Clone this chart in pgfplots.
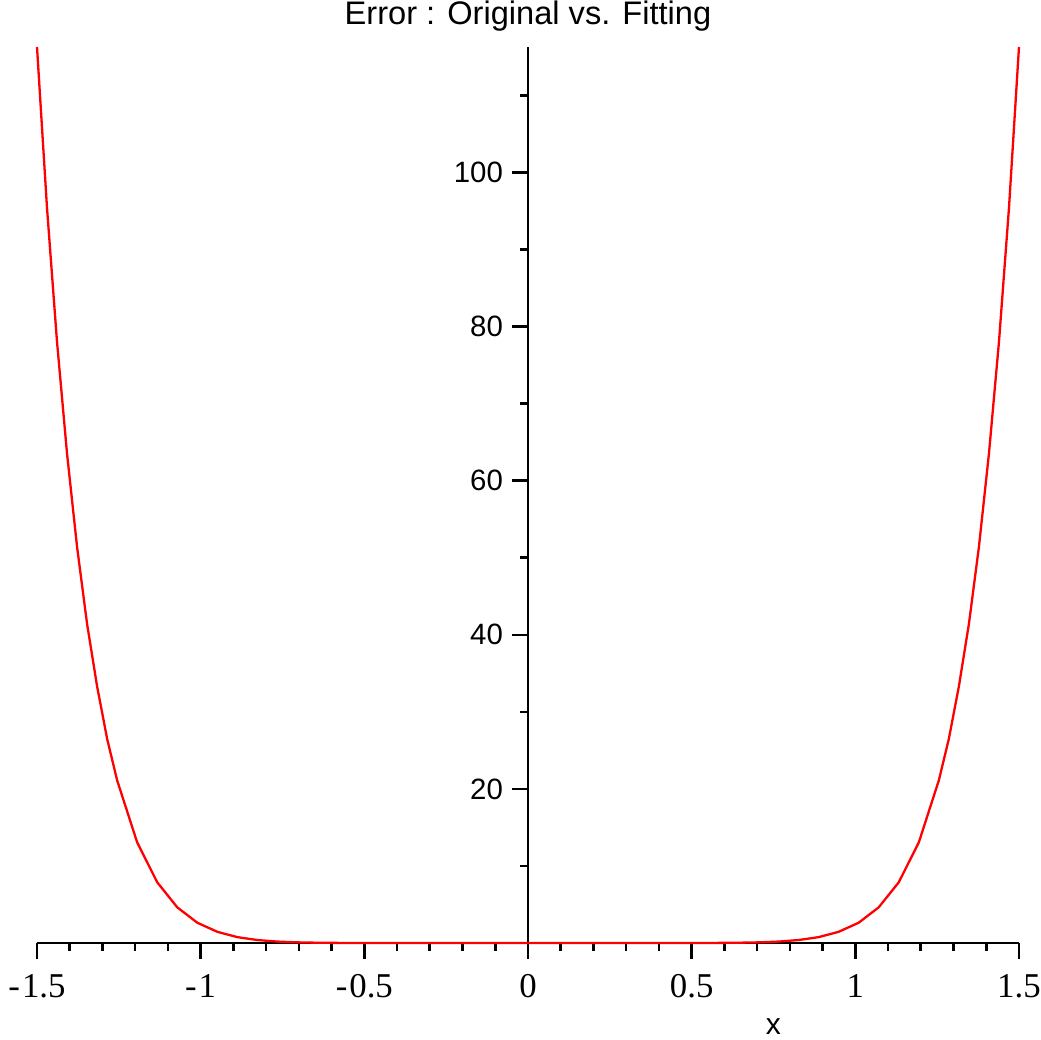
\documentclass[border=0pt]{standalone}
\usepackage{pgfplots}
\pgfplotsset{compat=1.18}
\usepackage{fontspec}
\setmainfont{Liberation Serif}
\newfontfamily\arial{Liberation Sans}
\begin{document}
\begin{tikzpicture}
\useasboundingbox (-18.5pt,-48.5pt) rectangle (502pt,471.5pt);
\begin{axis}[
  scale only axis,
  width=491pt, height=448pt,
  axis lines=middle,
  axis line style={-, line width=1.3pt, black},
  xmin=-1.5, xmax=1.5, ymin=0, ymax=116.3,
  clip=false,
  hide obscured x ticks=false,
  hide obscured y ticks=false,
  xtick={-1.5,-1,-0.5,0,0.5,1,1.5},
  xticklabels={-\kern1pt1.5,-\kern1pt1,-\kern1pt0.5,0,0.5,1,1.5},
  minor xtick={-1.4,-1.3,-1.2,-1.1,-0.9,-0.8,-0.7,-0.6,-0.4,-0.3,-0.2,-0.1,0.1,0.2,0.3,0.4,0.6,0.7,0.8,0.9,1.1,1.2,1.3,1.4},
  ytick={20,40,60,80,100},
  yticklabels={20,40,60,80,100},
  minor ytick={10,30,50,70,90,110},
  tick align=outside,
  major tick length=8pt,
  minor tick length=4pt,
  every tick/.style={black, line width=1.3pt},
  xticklabel style={font=\fontsize{17.4pt}{20pt}\selectfont, anchor=north, yshift=-4pt},
  yticklabel style={font=\arial\fontsize{14.7pt}{17pt}\selectfont, anchor=east, xshift=-1pt},
  title={Error : Original vs. Fitting},
  title style={font=\arial\fontsize{16.3pt}{19pt}\selectfont, at={(rel axis cs:0.5,1)}, anchor=base, yshift=5pt},
  xlabel={x},
  every axis x label/.style={at={(axis cs:0.75,0)}, anchor=center, yshift=-42pt, font=\arial\fontsize{15pt}{18pt}\selectfont},
]
\addplot[color=red, line width=1.15pt] coordinates {
(-1.5,116.3) (-1.46939,95.4) (-1.43878,78.0) (-1.40817,63.5) (-1.37755,51.4)
(-1.34694,41.4) (-1.31633,33.3) (-1.28572,26.5) (-1.25510,21.1)
(-1.19388,13.05) (-1.13265,7.88) (-1.07143,4.63) (-1.01020,2.63) (-0.94898,1.45)
(-0.88776,0.76) (-0.82653,0.385) (-0.76531,0.184) (-0.70408,0.083) (-0.64286,0.035)
(-0.58163,0.013) (-0.52041,0.005) (-0.45918,0.0013) (-0.39796,0.0003) (-0.33673,0.0001)
(-0.27551,0) (-0.21429,0) (-0.15306,0) (-0.09184,0) (-0.03061,0)
(0.03061,0) (0.09184,0) (0.15306,0) (0.21429,0) (0.27551,0)
(0.33673,0.0001) (0.39796,0.0003) (0.45918,0.0013) (0.52041,0.005) (0.58163,0.013)
(0.64286,0.035) (0.70408,0.083) (0.76531,0.184) (0.82653,0.385) (0.88776,0.76)
(0.94898,1.45) (1.01020,2.63) (1.07143,4.63) (1.13265,7.88) (1.19388,13.05)
(1.25510,21.1) (1.28572,26.5) (1.31633,33.3) (1.34694,41.4) (1.37755,51.4)
(1.40817,63.5) (1.43878,78.0) (1.46939,95.4) (1.5,116.3)
};
\end{axis}
\end{tikzpicture}
\end{document}
